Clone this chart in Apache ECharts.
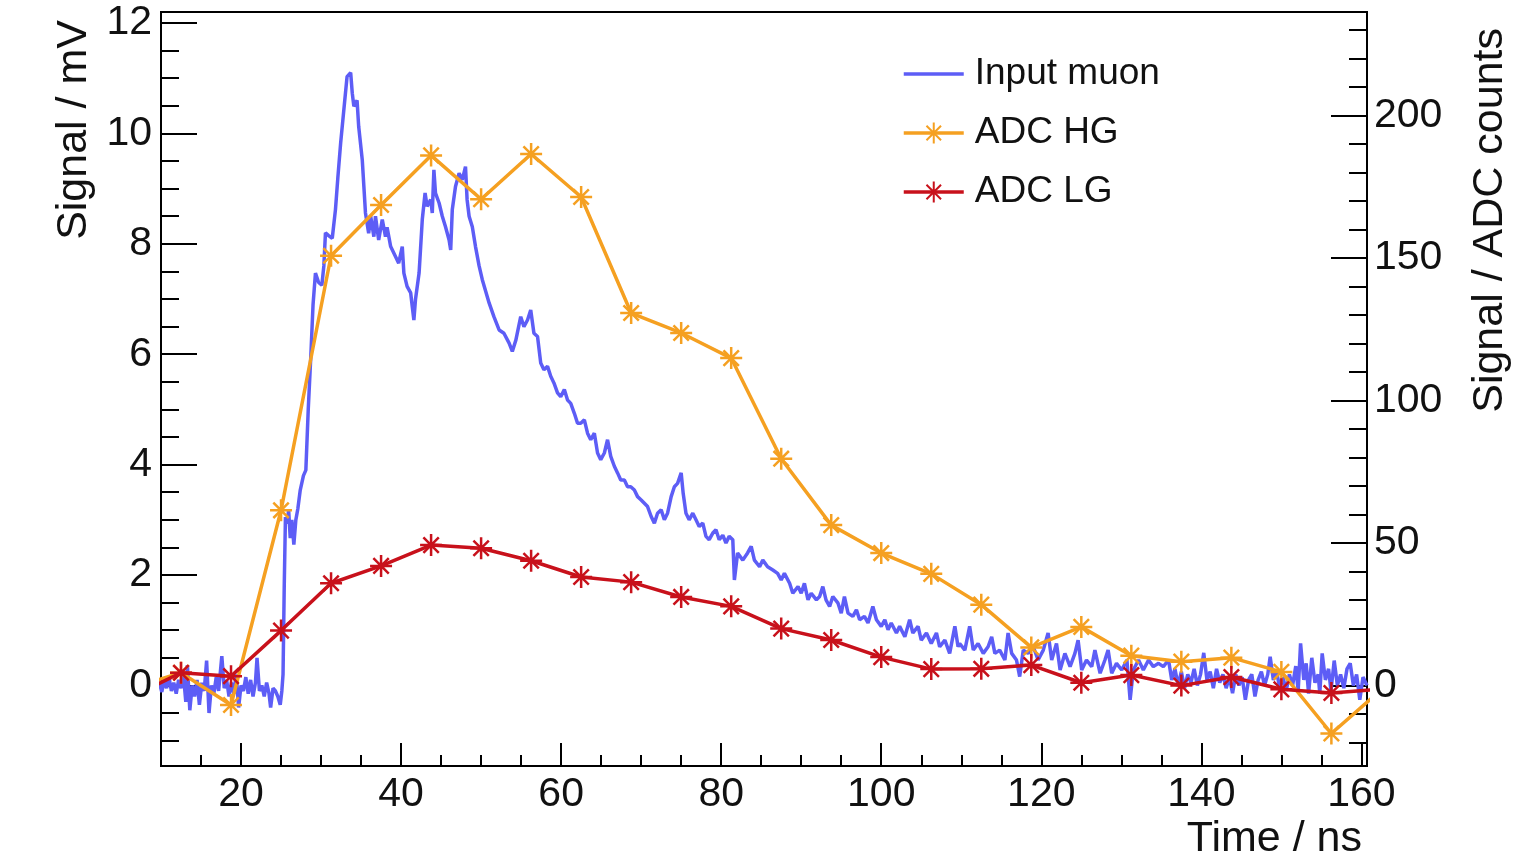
<!DOCTYPE html>
<html><head><meta charset="utf-8">
<script src="https://cdn.jsdelivr.net/npm/echarts@6/dist/echarts.min.js"></script>
<style>html,body{margin:0;padding:0;background:#fff}#c{width:1538px;height:865px}</style>
</head><body><div id="c"></div>
<script>
// Input muon waveform (time in ns, signal in mV)
const muonT = [
9.8,10.1,10.4,10.7,11.0,11.3,11.6,11.9,12.2,12.5,12.8,13.1,13.3,13.6,13.9,14.2,14.5,14.8,15.1,15.4,
15.7,16.0,16.3,16.6,16.9,17.2,17.6,17.9,18.2,18.5,18.8,19.1,19.4,19.7,20.0,20.3,20.6,20.9,21.2,21.5,
21.8,22.0,22.3,22.6,22.9,23.2,23.5,23.7,24.0,24.3,24.6,24.9,25.1,25.25,25.4,25.55,25.75,25.95,26.15,26.35,
26.6,26.85,27.1,27.4,27.8,28.1,28.4,28.7,29.0,29.3,29.7,30.1,30.35,30.55,30.95,31.4,31.8,32.1,32.45,32.85,
33.25,33.7,33.9,34.1,34.5,34.7,35.15,35.35,35.55,35.95,36.2,36.6,36.8,37.2,37.65,38.05,38.25,38.7,39.3,39.7,
40.15,40.35,40.75,41.2,41.4,41.6,41.8,42.25,42.65,43.0,43.25,43.7,43.9,44.1,44.3,44.75,45.15,45.55,46.0,46.2,
46.4,46.8,47.25,47.65,48.05,48.25,48.5,48.9,49.3,49.75,50.15,51.0,51.6,52.25,52.85,53.5,53.9,54.35,54.95,55.35,
55.8,56.2,56.6,57.05,57.45,57.85,58.3,58.7,59.1,59.55,59.95,60.4,60.8,61.2,61.65,62.05,62.45,62.9,63.3,63.7,
64.15,64.55,64.95,65.4,65.8,66.2,66.65,67.05,67.45,67.9,68.3,68.7,69.15,69.55,70.0,70.4,70.8,71.25,71.65,72.05,
72.5,72.9,73.3,73.75,74.15,74.55,75.0,75.25,75.6,76.0,76.45,76.85,77.25,77.7,78.1,78.5,78.95,79.35,79.75,80.2,
80.6,81.0,81.45,81.65,82.05,82.7,83.3,83.75,84.15,84.8,85.2,85.8,86.45,87.05,87.5,87.9,88.55,88.95,89.6,90.0,
90.4,90.85,91.25,91.9,92.3,92.7,93.1,93.55,93.95,94.6,95.0,95.4,95.85,96.45,96.9,97.3,97.9,98.35,98.95,99.4,
100.0,100.45,100.85,101.25,101.9,102.3,102.95,103.55,103.95,104.6,105.0,105.65,106.25,106.9,107.3,107.95,108.55,109.2,109.6,109.8,
110.45,111.05,111.5,112.1,112.75,113.35,113.8,114.2,114.8,115.45,115.85,116.3,116.9,117.3,117.75,118.35,119.0,119.6,120.25,120.85,
121.3,121.9,122.35,122.95,123.6,124.2,124.6,125.05,125.65,126.3,126.7,127.35,127.95,128.35,128.8,129.4,130.05,130.7,131.1,131.5,
132.15,132.75,133.4,134.0,134.65,135.25,135.9,136.3,136.7,137.1,137.5,137.9,138.3,138.7,139.1,139.5,139.9,140.3,140.7,141.1,
141.5,141.9,142.3,142.7,143.1,143.5,143.9,144.3,144.7,145.1,145.5,145.9,146.3,146.7,147.1,147.5,147.9,148.3,148.6,149.0,
149.4,149.8,150.2,150.6,151.0,151.4,151.8,152.1,152.4,152.8,153.1,153.4,153.8,154.2,154.6,154.8,155.1,155.5,155.9,156.2,
156.6,157.0,157.4,157.8,158.2,158.6,159.0,159.4,159.8,160.2,160.7
];
const muonV = [
0.05,-0.12,0.1,-0.05,0.15,-0.1,0.05,-0.15,0.1,-0.05,0.2,-0.3,0.37,-0.45,0.0,-0.2,0.1,-0.35,0.05,-0.1,
0.45,-0.5,0.0,-0.15,0.15,-0.1,0.53,-0.05,0.1,-0.2,0.05,-0.15,0.2,-0.4,0.0,-0.1,0.15,-0.15,0.1,-0.2,
0.05,0.5,-0.1,0.0,-0.2,0.05,-0.15,-0.4,-0.05,-0.1,-0.2,-0.35,-0.1,0.2,1.8,3.05,2.93,3.18,2.67,3.0,
2.55,3.0,3.2,3.54,3.8,3.9,5.0,5.9,6.9,7.47,7.3,7.25,7.6,8.2,8.15,8.1,8.62,9.2,9.83,10.43,
11.03,11.1,10.73,10.49,10.6,10.13,9.52,9.04,8.56,8.19,8.5,8.13,8.5,8.07,8.44,8.13,8.3,7.95,7.77,7.65,
7.95,7.47,7.23,7.11,6.86,6.62,6.99,7.47,8.44,8.92,8.68,8.8,8.56,9.34,8.92,8.74,8.5,8.31,8.07,7.89,
8.62,9.04,9.28,9.16,9.4,8.8,8.5,8.31,7.95,7.6,7.35,6.93,6.68,6.44,6.38,6.2,6.05,6.26,6.68,6.5,
6.62,6.8,6.38,6.32,5.84,5.72,5.78,5.6,5.48,5.3,5.23,5.36,5.17,5.11,4.93,4.75,4.75,4.81,4.57,4.45,
4.57,4.21,4.09,4.21,4.45,4.15,3.97,3.85,3.72,3.72,3.6,3.6,3.54,3.42,3.36,3.3,3.24,3.06,2.94,3.12,
3.18,3.0,3.12,3.42,3.6,3.66,3.85,3.48,3.12,3.0,3.12,3.0,2.88,2.94,2.7,2.64,2.76,2.82,2.64,2.72,
2.58,2.7,2.64,1.91,2.4,2.27,2.4,2.52,2.27,2.15,2.27,2.15,2.09,2.03,1.91,2.03,1.85,1.67,1.79,1.67,
1.85,1.55,1.67,1.55,1.61,1.79,1.55,1.43,1.61,1.49,1.31,1.61,1.31,1.25,1.37,1.19,1.25,1.13,1.43,1.19,
1.07,1.19,1.01,1.13,0.95,1.07,0.88,1.19,0.95,1.07,0.82,0.95,0.76,0.95,0.7,0.82,0.58,1.07,0.7,0.76,
0.64,1.07,0.64,0.76,0.58,0.7,0.88,0.58,0.64,0.46,0.95,0.58,0.46,0.16,0.64,0.58,0.7,0.46,0.64,0.95,
0.46,0.76,0.28,0.58,0.34,0.58,0.82,0.28,0.46,0.34,0.64,0.22,0.46,0.64,0.22,0.4,0.28,0.46,-0.26,0.28,
0.46,0.28,0.46,0.34,0.4,0.34,0.46,0.1,0.3,0.0,0.25,-0.05,0.2,0.05,0.3,0.0,0.2,0.59,0.1,0.25,
-0.05,0.3,0.05,0.2,-0.05,0.15,-0.14,0.2,0.0,0.15,-0.26,0.1,0.2,-0.2,0.1,0.25,0.0,0.2,0.52,0.1,
0.25,-0.05,0.15,-0.1,0.2,0.0,0.35,-0.1,0.76,0.1,0.4,-0.15,0.5,0.05,0.2,-0.15,0.58,0.1,0.3,-0.1,
0.45,0.0,0.2,-0.05,0.3,0.4,0.0,0.2,-0.26,0.15,0.0
];
// ADC samples (time in ns, values in ADC counts)
const adcT = [6.25,12.5,18.75,25,31.25,37.5,43.75,50,56.25,62.5,68.75,75,81.25,87.5,93.75,100,106.25,112.5,118.75,125,131.25,137.5,143.75,150,156.25,162.5];
const hgV = [-1,4.5,-6.8,61.5,150.8,168.6,186.0,170.6,186.5,171.4,130.7,123.7,114.9,79.6,56.3,46.5,39.2,28.4,13.4,20.6,10.5,8.4,9.8,4.8,-16.8,-1.4];
const lgV = [-4,4.5,3.3,19.3,35.9,42.0,49.3,48.2,43.8,38.1,36.3,31.1,27.8,20.0,16.0,10.0,5.8,5.9,7.2,1.0,3.7,0.0,3.0,-1.3,-2.6,-1.2];
const seriesNames = ['Input muon','ADC HG','ADC LG'];

const FONT = 'Liberation Sans';
const BLUE = '#5d5df6', ORANGE = '#f5a021', RED = '#c8111b', INK = '#111';
const STAR = 'path://M10,0L10,20M0,10L20,10M3,3L17,17M3,17L17,3';
const LINE_ICON = 'path://M0,0L60,0L60,3.5L0,3.5Z';
const tickStyle = {color:'#000', width:2};
const labelStyle = {fontFamily:FONT, fontSize:41, color:INK};

const chart = echarts.init(document.getElementById('c'), null, {renderer:'canvas'});
const zip = (a,b) => a.map((t,i)=>[t,b[i]]);
const majorX = {type:'value', min:10, max:160.7, minInterval:20, maxInterval:20, splitNumber:8, position:'bottom',
  axisLine:{show:true, onZero:false, lineStyle:tickStyle}, axisTick:{show:true, inside:true, length:23, lineStyle:tickStyle},
  axisLabel:Object.assign({show:true, showMinLabel:false, showMaxLabel:false, margin:8}, labelStyle), splitLine:{show:false}};
const minorX = {type:'value', min:10, max:160.7, interval:5, position:'bottom',
  axisLine:{show:false, onZero:false}, axisTick:{show:true, inside:true, length:11, lineStyle:tickStyle}, axisLabel:{show:false}, splitLine:{show:false}};
function yAx(pos, min, max, step, len, labels){
  return {type:'value', position:pos, min:min, max:max, minInterval:step, maxInterval:step, splitNumber:Math.round((max-min)/step),
    axisLine:{show:labels, onZero:false, lineStyle:tickStyle}, axisTick:{show:true, inside:true, length:len, lineStyle:tickStyle},
    axisLabel:labels ? Object.assign({show:true, showMinLabel:false, showMaxLabel:false, margin:pos==='left'?9:7, padding:[5,0,0,0]}, labelStyle) : {show:false},
    splitLine:{show:false}};
}
chart.setOption({
  animation:false,
  backgroundColor:'#fff',
  grid:{left:161, right:171, top:12, bottom:99, show:true, borderColor:'#000', borderWidth:2, backgroundColor:'transparent', containLabel:false, outerBoundsMode:'none'},
  legend:{data:[{name:seriesNames[0], icon:LINE_ICON}, seriesNames[1], seriesNames[2]], orient:'vertical', left:897, top:49, itemWidth:60, itemHeight:26, itemGap:19,
    lineStyle:{width:3.5}, textStyle:{fontFamily:FONT, fontSize:37, color:INK, lineHeight:40, padding:[0,0,0,6]}},
  xAxis:[majorX, minorX],
  yAxis:[yAx('left',-1.46,12.2,2,36,true), yAx('right',-28.2,236.3,50,36,true), yAx('left',-1.46,12.2,0.5,18,false), yAx('right',-28.2,236.3,10,18,false)],
  series:[
    {name:seriesNames[0], type:'line', xAxisIndex:0, yAxisIndex:0, data:zip(muonT,muonV), symbol:'none', showSymbol:false,
      lineStyle:{color:BLUE, width:3.5}, itemStyle:{color:BLUE}, clip:true, z:2},
    {name:seriesNames[1], type:'line', xAxisIndex:0, yAxisIndex:1, data:zip(adcT,hgV), symbol:STAR, symbolSize:22, showSymbol:true,
      lineStyle:{color:ORANGE, width:3.5}, itemStyle:{color:ORANGE, borderColor:ORANGE, borderWidth:2.5}, clip:true, z:3},
    {name:seriesNames[2], type:'line', xAxisIndex:0, yAxisIndex:1, data:zip(adcT,lgV), symbol:STAR, symbolSize:22, showSymbol:true,
      lineStyle:{color:RED, width:3.5}, itemStyle:{color:RED, borderColor:RED, borderWidth:2.5}, clip:true, z:4}
  ],
  graphic:[
    {type:'text', x:74, y:20, rotation:Math.PI/2, silent:true, style:{text:'Signal / mV', font:'43px "Liberation Sans"', fill:INK, align:'right', verticalAlign:'middle'}},
    {type:'text', x:1490, y:28, rotation:Math.PI/2, silent:true, style:{text:'Signal / ADC counts', font:'43px "Liberation Sans"', fill:INK, align:'right', verticalAlign:'middle'}},
    {type:'text', x:1362, y:839, silent:true, style:{text:'Time / ns', font:'43px "Liberation Sans"', fill:INK, align:'right', verticalAlign:'middle'}}
  ]
});
</script></body></html>
